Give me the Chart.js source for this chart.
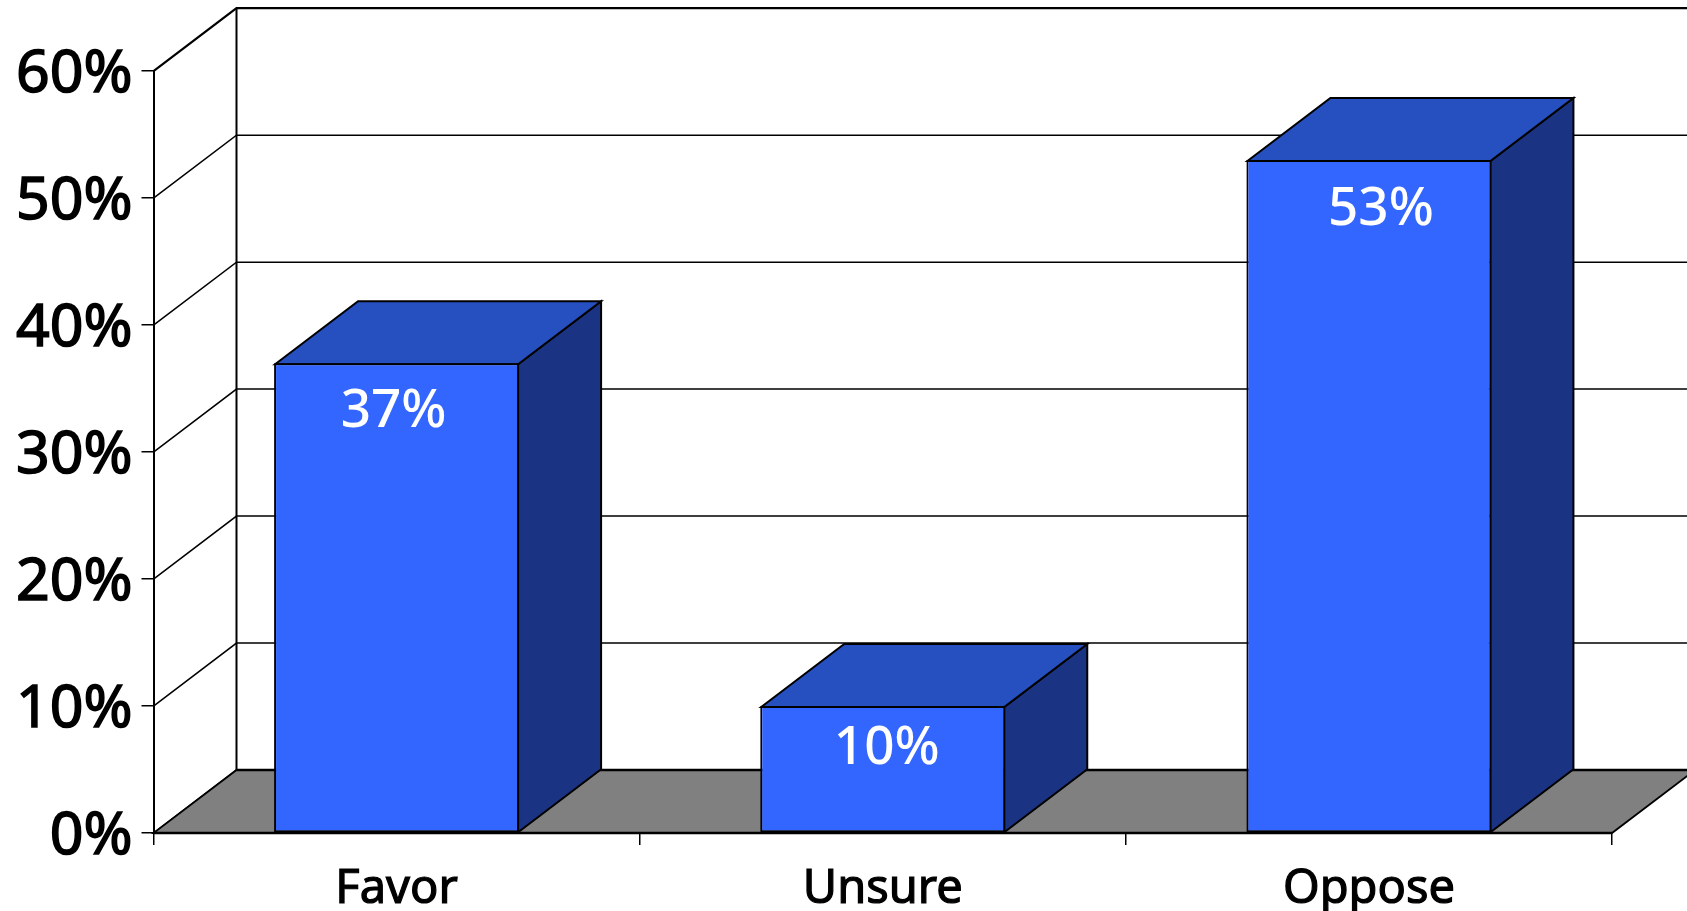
<!DOCTYPE html>
<html>
<head>
<meta charset="utf-8">
<style>html,body{margin:0;padding:0;background:#fff;overflow:hidden}canvas{display:block}</style>
<script src="https://cdn.jsdelivr.net/npm/chart.js@4"></script>
</head>
<body>
<canvas id="c" width="1687" height="911"></canvas>
<script>
const categories = ["Favor", "Unsure", "Oppose"];
const values = [37, 10, 53];
const axisMax = 60;
const axisStep = 10;

const DX = 83, DY = -63;
const FONT = '"Noto Sans", sans-serif';
const labelShift = [[-3, 49], [4, 43], [12, 50]];

function poly(ctx, pts, fill, lw) {
  ctx.beginPath();
  pts.forEach((p, i) => i ? ctx.lineTo(p[0], p[1]) : ctx.moveTo(p[0], p[1]));
  ctx.closePath();
  if (fill) { ctx.fillStyle = fill; ctx.fill(); }
  if (lw) { ctx.lineWidth = lw; ctx.strokeStyle = '#000'; ctx.stroke(); }
}

const walls3d = {
  id: 'walls3d',
  beforeDatasetsDraw(chart) {
    const { ctx, chartArea: a, scales: { y } } = chart;
    ctx.save();
    ctx.strokeStyle = '#000';
    for (let v = 0; v <= axisMax; v += axisStep) {
      const py = y.getPixelForValue(v);
      ctx.lineWidth = v === axisMax ? 2.2 : 1.5;
      ctx.beginPath();
      ctx.moveTo(a.left, py);
      ctx.lineTo(a.left + DX, py + DY);
      ctx.lineTo(a.right + DX, py + DY);
      ctx.stroke();
    }
    ctx.lineWidth = 2;
    ctx.beginPath();
    ctx.moveTo(a.left + DX, y.getPixelForValue(0) + DY);
    ctx.lineTo(a.left + DX, y.getPixelForValue(axisMax) + DY);
    ctx.stroke();
    const b = y.getPixelForValue(0);
    poly(ctx, [[a.left, b], [a.right, b], [a.right + DX, b + DY], [a.left + DX, b + DY]], '#808080', 1.8);
    ctx.lineWidth = 2.4;
    ctx.beginPath();
    ctx.moveTo(a.left + DX, b + DY);
    ctx.lineTo(a.right + DX, b + DY);
    ctx.moveTo(a.left, b);
    ctx.lineTo(a.right, b);
    ctx.stroke();
    chart.getDatasetMeta(0).data.forEach(el => {
      const l = el.x - el.width / 2 + 1, r = el.x + el.width / 2 - 1, t = el.y + 1, base = el.base;
      poly(ctx, [[r, t], [r + DX, t + DY], [r + DX, base + DY], [r, base]], '#1a3483', 2);
      poly(ctx, [[l, t], [l + DX, t + DY], [r + DX, t + DY], [r, t]], '#2650c0', 2);
    });
    ctx.restore();
  },
  afterDatasetsDraw(chart) {
    const { ctx } = chart;
    ctx.save();
    ctx.fillStyle = '#fff';
    ctx.font = '500 53px ' + FONT;
    ctx.textAlign = 'center';
    ctx.textBaseline = 'middle';
    chart.getDatasetMeta(0).data.forEach((el, i) => {
      ctx.fillText(values[i] + '%', el.x + labelShift[i][0], el.y + labelShift[i][1]);
    });
    ctx.restore();
  }
};

new Chart(document.getElementById('c'), {
  type: 'bar',
  data: {
    labels: categories,
    datasets: [{
      data: values,
      backgroundColor: '#3366ff',
      borderColor: '#000',
      borderWidth: 2,
      borderSkipped: false,
      barPercentage: 0.504,
      categoryPercentage: 1
    }]
  },
  plugins: [walls3d],
  options: {
    responsive: false,
    animation: false,
    devicePixelRatio: 1,
    layout: { padding: { top: 71.2, right: 75, left: 0, bottom: 0 } },
    plugins: { legend: { display: false }, tooltip: { enabled: false }, title: { display: false } },
    scales: {
      x: {
        afterFit(s) { s.height = 78; },
        grid: { offset: true, drawOnChartArea: false, drawTicks: true, tickLength: 12, color: '#000', lineWidth: 1.5 },
        border: { color: '#000', width: 2 },
        ticks: { color: '#000', padding: 16, maxRotation: 0, textStrokeColor: '#000', textStrokeWidth: 1.2, font: { family: FONT, size: 47 } }
      },
      y: {
        min: 0,
        max: axisMax,
        afterFit(s) { s.width = 153.5; },
        grid: { drawOnChartArea: false, drawTicks: true, tickLength: 12, color: '#000', lineWidth: 1.5 },
        border: { color: '#000', width: 2 },
        ticks: {
          stepSize: axisStep,
          color: '#000',
          padding: 9,
          labelOffset: 4,
          textStrokeColor: '#000',
          textStrokeWidth: 1.5,
          font: { family: FONT, size: 59 },
          callback: v => v + '%'
        }
      }
    }
  }
});
</script>
</body>
</html>
